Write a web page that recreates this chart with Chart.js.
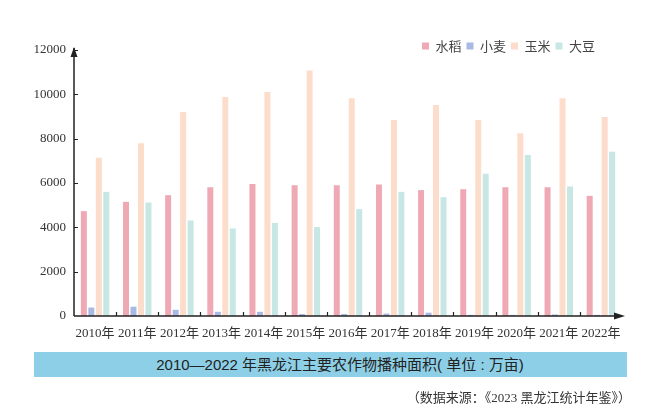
<!DOCTYPE html>
<html>
<head>
<meta charset="utf-8">
<script src="https://cdn.jsdelivr.net/npm/chart.js@4/dist/chart.umd.min.js"></script>
<style>
  html, body { margin: 0; padding: 0; background: #fff; }
  #wrap { position: relative; width: 647px; height: 415px; }
  #c { position: absolute; left: 0; top: 0; }
  #title {
    position: absolute; left: 34px; top: 352px; width: 593px; height: 25px;
    background: #8dcfe6; box-sizing: border-box; padding-left: 19px;
    font: 15px "Liberation Sans", "Noto Sans CJK SC", sans-serif; color: #222;
    text-align: center; line-height: 25px; white-space: nowrap;
  }
  #source {
    position: absolute; right: 16px; top: 390px;
    font: 13px "Liberation Serif", "Noto Sans CJK SC", serif; color: #333;
    line-height: 16px; white-space: nowrap;
  }
</style>
</head>
<body>
<div id="wrap">
  <canvas id="c" width="647" height="415"></canvas>
  <div id="title">2010—2022 年黑龙江主要农作物播种面积( 单位 : 万亩)</div>
  <div id="source">（数据来源：《2023 黑龙江统计年鉴》）</div>
</div>
<script>
const years = ['2010年','2011年','2012年','2013年','2014年','2015年','2016年','2017年','2018年','2019年','2020年','2021年','2022年'];
const seriesNames = ['水稻','小麦','玉米','大豆'];
const rice  = [4730, 5150, 5450, 5810, 5960, 5900, 5900, 5930, 5680, 5720, 5810, 5810, 5420];
const wheat = [380, 420, 280, 190, 190, 90, 90, 110, 150, 50, 50, 70, 50];
const corn  = [7140, 7790, 9200, 9880, 10100, 11080, 9820, 8840, 9520, 8840, 8250, 9820, 8980];
const soy   = [5600, 5120, 4310, 3950, 4200, 4010, 4820, 5600, 5360, 6420, 7260, 5840, 7410];
const yTicks = [0, 2000, 4000, 6000, 8000, 10000, 12000];

const colors = ['#eea9b5', '#a8bae3', '#fcdccb', '#c6e7e4'];
const values = [rice, wheat, corn, soy];

const AXIS = '#222';

const axesPlugin = {
  id: 'axesDeco',
  afterInit(chart) {
    const lg = chart.legend;
    if (lg) {
      const origFit = lg.fit.bind(lg);
      lg.fit = function () { origFit(); this.height = 0; };
    }
  },
  afterLayout(chart) {
    const lg = chart.legend;
    if (lg) {
      const pad = lg.options.labels.padding;
      const fs = 13;
      lg.top = 46 - pad - fs / 2;
      lg.bottom = lg.top + 20;
      lg.right = 600;
    }
  },
  afterDraw(chart) {
    const ctx = chart.ctx;
    const a = chart.chartArea;
    const y = chart.scales.y;
    ctx.save();
    ctx.strokeStyle = AXIS;
    ctx.fillStyle = AXIS;
    ctx.lineWidth = 1.5;
    ctx.beginPath();
    ctx.moveTo(a.left, a.bottom);
    ctx.lineTo(a.left, a.top - 2);
    ctx.moveTo(a.left, a.bottom);
    ctx.lineTo(a.right, a.bottom);
    ctx.stroke();
    const n = years.length;
    const w = (a.right - a.left) / n;
    ctx.lineWidth = 1.2;
    ctx.beginPath();
    for (let i = 1; i < n; i++) {
      const px = Math.round(a.left + i * w) + 0.5;
      ctx.moveTo(px, a.bottom);
      ctx.lineTo(px, a.bottom - 4);
    }
    yTicks.forEach(v => {
      if (v === 0) return;
      const py = Math.round(y.getPixelForValue(v)) + 0.5;
      ctx.moveTo(a.left, py);
      ctx.lineTo(a.left + 4, py);
    });
    ctx.stroke();
    ctx.beginPath();
    ctx.moveTo(a.left, a.top - 3);
    ctx.lineTo(a.left - 3.5, a.top + 7);
    ctx.lineTo(a.left + 3.5, a.top + 7);
    ctx.closePath();
    ctx.fill();
    ctx.beginPath();
    ctx.moveTo(a.right + 3, a.bottom);
    ctx.lineTo(a.right - 8, a.bottom - 3.5);
    ctx.lineTo(a.right - 8, a.bottom + 3.5);
    ctx.closePath();
    ctx.fill();
    ctx.restore();
  }
};

new Chart(document.getElementById('c'), {
  type: 'bar',
  data: {
    labels: years,
    datasets: seriesNames.map((name, i) => ({
      label: name,
      data: values[i],
      backgroundColor: colors[i],
      borderWidth: 0,
      categoryPercentage: 0.71,
      barPercentage: 0.8
    }))
  },
  options: {
    responsive: false,
    animation: false,
    devicePixelRatio: 1,
    layout: { padding: { top: 50, right: 25, bottom: 69, left: 0 } },
    plugins: {
      legend: {
        display: true,
        position: 'top',
        align: 'end',
        labels: {
          boxWidth: 7,
          boxHeight: 7,
          padding: 5,
          color: '#444',
          font: { family: '"Noto Sans CJK SC", sans-serif', size: 13 }
        }
      },
      tooltip: { enabled: false },
      title: { display: false }
    },
    scales: {
      x: {
        grid: { display: false, drawTicks: false },
        border: { display: false },
        ticks: {
          color: '#333',
          padding: 10,
          maxRotation: 0,
          autoSkip: false,
          font: { family: '"Liberation Serif", "Noto Sans CJK SC", serif', size: 13 }
        },
        afterFit(s) { s.height = 30; }
      },
      y: {
        min: 0,
        max: 12000,
        grid: { display: false, drawTicks: false },
        border: { display: false },
        afterBuildTicks(s) { s.ticks = yTicks.map(v => ({ value: v })); },
        ticks: {
          color: '#333',
          padding: 8,
          callback: (v) => String(v),
          font: { family: '"Liberation Serif", serif', size: 13 }
        },
        afterFit(s) { s.width = 74; }
      }
    }
  },
  plugins: [axesPlugin]
});
</script>
</body>
</html>
